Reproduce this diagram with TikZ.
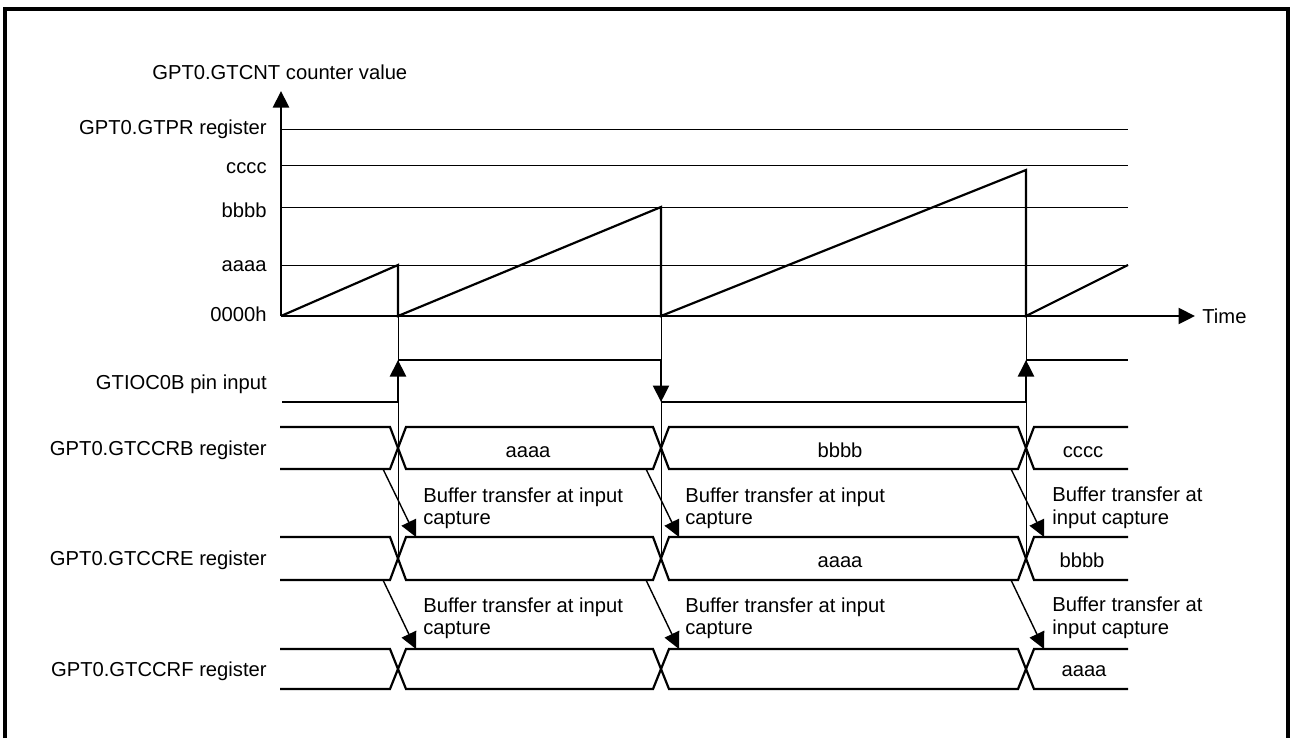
\documentclass[tikz,border=0pt]{standalone}
\usepackage{fontspec}
\setmainfont{Liberation Sans}
\usetikzlibrary{arrows.meta,positioning}
\definecolor{Ink}{HTML}{000000}
\tikzset{
  >={Triangle[length=3.3mm,width=3.2mm]},
  frame/.style={draw=Ink,line width=2.2pt},
  sig/.style={draw=Ink,line width=1.25pt},
  axis/.style={draw=Ink,line width=1.25pt},
  ref/.style={draw=Ink,line width=.5pt},
  capline/.style={draw=Ink,line width=.5pt},
  xfer/.style={->,draw=Ink,line width=.8pt},
  lab/.style={font=\fontsize{11.5}{13}\selectfont,inner sep=0pt,text=Ink},
  rlab/.style={lab,anchor=base east},
  note/.style={lab,anchor=north west,align=left}
}
\begin{document}
\begin{tikzpicture}[x=0.02cm,y=-0.02cm]
  \useasboundingbox (0,0) rectangle (1290,738);
  \draw[frame] (5,738) -- (5,9) -- (1288,9) -- (1288,738);
  % counter plot
  \coordinate (o) at (281,316);
  \coordinate (ytop) at (281,91);
  \coordinate (xend) at (1195,316);
  \node[lab,anchor=base west] (ttl) at (152,79) {GPT0.GTCNT counter value};
  \node[lab,anchor=base west] (time) at (1202,323) {Time};
  \foreach \y/\bl/\txt/\nm in {129/134/GPT0.GTPR register/pr, 165/173/cccc/c, 207/217/bbbb/b, 265/271/aaaa/a}{
    \draw[ref] (281,\y) -- (1128,\y);
    \node[rlab] (lv-\nm) at (267,\bl) {\txt};
  }
  \node[rlab] (lv-z) at (267,321) {0000h};
  \draw[axis,->] (o) -- (ytop);
  \draw[axis,->] (o) -- (xend);
  \draw[sig] (o) -- (398,265) -- (398,316) -- (661,207) -- (661,316) -- (1026,170) -- (1026,316) -- (1128,265);
  % capture instants
  \foreach \x/\nm in {398/1, 661/2, 1026/3}{
    \coordinate (cap\nm) at (\x,316);
    \coordinate (capend\nm) at (\x,558);
    \draw[capline] (cap\nm) -- (capend\nm);
  }
  % pin input
  \node[rlab] (pin) at (267,389) {GTIOC0B pin input};
  \draw[sig] (282,402) -- (398,402) (398,360) -- (661,360) (661,402) -- (1026,402) (1026,360) -- (1128,360);
  \draw[sig,->] (398,402) -- (398,360);
  \draw[sig,->] (661,360) -- (661,402);
  \draw[sig,->] (1026,402) -- (1026,360);
  % registers
  \foreach \t/\b/\txt/\nm in {427/469/GPT0.GTCCRB register/B, 537/580/GPT0.GTCCRE register/E, 649/689/GPT0.GTCCRF register/F}{
    \draw[sig] (280,\t) -- (390,\t) -- (406,\b) -- (653,\b) -- (669,\t) -- (1018,\t) -- (1034,\b) -- (1128,\b);
    \draw[sig] (280,\b) -- (390,\b) -- (406,\t) -- (653,\t) -- (669,\b) -- (1018,\b) -- (1034,\t) -- (1128,\t);
    \node[rlab] (reg\nm) at (267,{(\t+\b)/2+7}) {\txt};
  }
  \node[lab,anchor=base] (vB1) at (528,457) {aaaa};
  \node[lab,anchor=base] (vB2) at (840,457) {bbbb};
  \node[lab,anchor=base] (vB3) at (1083,457) {cccc};
  \node[lab,anchor=base] (vE2) at (840,567) {aaaa};
  \node[lab,anchor=base] (vE3) at (1082,567) {bbbb};
  \node[lab,anchor=base] (vF3) at (1084,676) {aaaa};
  % buffer transfers
  \foreach \x/\nm in {398/1, 661/2, 1026/3}{
    \coordinate (sE\nm) at ({\x-15},469);
    \coordinate (eE\nm) at ({\x+18},537);
    \coordinate (sF\nm) at ({\x-15},580);
    \coordinate (eF\nm) at ({\x+18},649);
    \draw[xfer] (sE\nm) -- (eE\nm);
    \draw[xfer] (sF\nm) -- (eF\nm);
  }
  \node[note] (nE1) at (423,487) {Buffer transfer at input\\capture};
  \node[note] (nE2) at (685,487) {Buffer transfer at input\\capture};
  \node[note] (nE3) at (1052,487) {Buffer transfer at\\input capture};
  \node[note] (nF1) at (423,597) {Buffer transfer at input\\capture};
  \node[note] (nF2) at (685,597) {Buffer transfer at input\\capture};
  \node[note] (nF3) at (1052,597) {Buffer transfer at\\input capture};
\end{tikzpicture}
\end{document}
